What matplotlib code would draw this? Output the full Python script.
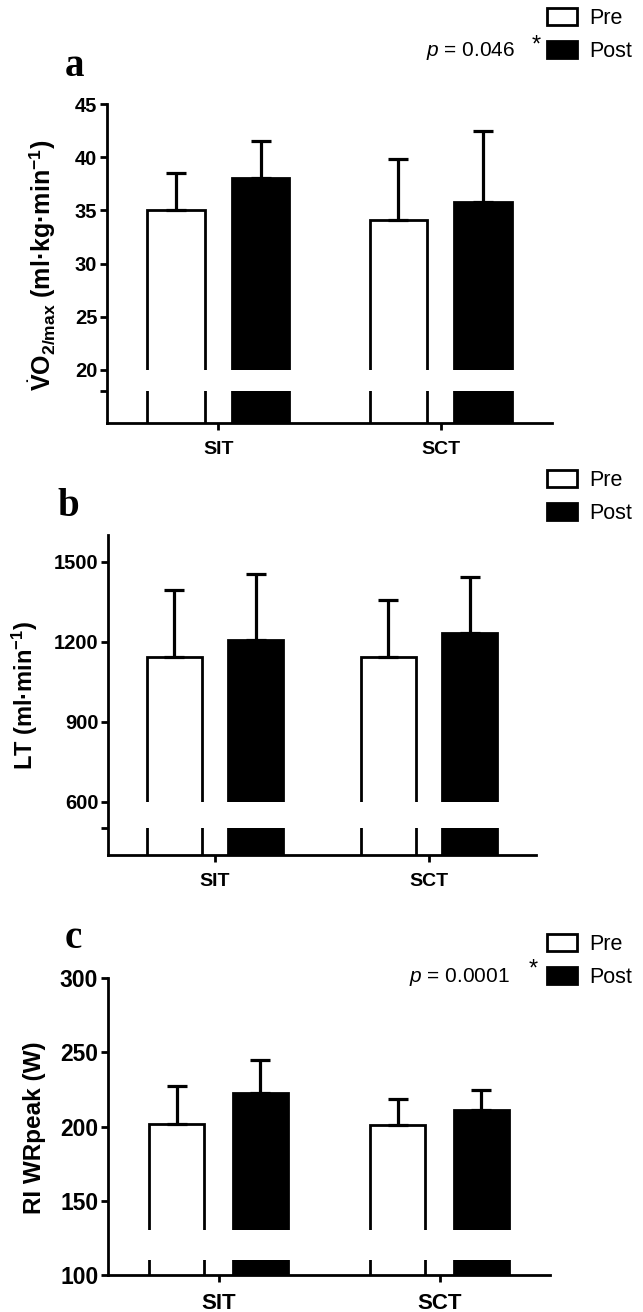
import matplotlib
matplotlib.use("Agg")
import matplotlib.pyplot as plt
import numpy as np

plt.rcParams['font.family'] = ['Liberation Sans', 'DejaVu Sans']
plt.rcParams['mathtext.fontset'] = 'custom'
plt.rcParams['mathtext.rm'] = 'Liberation Sans'
plt.rcParams['mathtext.bf'] = 'Liberation Sans:bold'
plt.rcParams['mathtext.it'] = 'Liberation Sans:italic'

# ---------------- data ----------------
groups = ["SIT", "SCT"]
series = ["Pre", "Post"]

vo2_pre = [35.0, 34.05]
vo2_pre_sd = [3.5, 5.8]
vo2_post = [38.05, 35.75]
vo2_post_sd = [3.45, 6.75]

lt_pre = [1142, 1142]
lt_pre_sd = [253, 216]
lt_post = [1205, 1232]
lt_post_sd = [247, 211]

wr_pre = [202, 201]
wr_pre_sd = [25.6, 17.7]
wr_post = [222.5, 211.2]
wr_post_sd = [22.5, 13.5]

vo2_ticks = [18, 20, 25, 30, 35, 40, 45]
vo2_ticklabels = ["", "20", "25", "30", "35", "40", "45"]
lt_ticks = [500, 600, 900, 1200, 1500]
lt_ticklabels = ["", "600", "900", "1200", "1500"]
wr_ticks = [100, 150, 200, 250, 300]
wr_ticklabels = ["100", "150", "200", "250", "300"]

p_a = "0.046"
p_c = "0.0001"

# ---------------- figure ----------------
W, H = 643, 1312
fig = plt.figure(figsize=(W / 100, H / 100), dpi=100)


def px_axes(left, right, top, bottom):
    return fig.add_axes([left / W, 1 - bottom / H, (right - left) / W, (bottom - top) / H])


LW = 2.0


def panel(ax, pre, pre_sd, post, post_sd, ylim, brk, ticks, ticklabels,
          tick_fs, xtick_fs, xtick_weight, width):
    x = np.arange(len(groups))
    off = 0.19
    b1 = ax.bar(x - off, pre, width, color="white", edgecolor="black", linewidth=LW, zorder=2)
    b2 = ax.bar(x + off, post, width, color="black", edgecolor="black", linewidth=LW, zorder=2)
    ax.errorbar(x - off, pre, yerr=[np.zeros(len(pre)), pre_sd], fmt="none", ecolor="black",
                elinewidth=LW + 0.3, capsize=7.5, capthick=LW + 0.3, zorder=3)
    ax.errorbar(x + off, post, yerr=[np.zeros(len(post)), post_sd], fmt="none", ecolor="black",
                elinewidth=LW + 0.3, capsize=7.5, capthick=LW + 0.3, zorder=3)
    ax.axhspan(brk[0], brk[1], color="white", zorder=2.2, lw=0)
    ax.set_xlim(-0.5, 1.5)
    ax.set_ylim(*ylim)
    ax.set_yticks(ticks)
    ax.set_yticklabels(ticklabels, fontsize=tick_fs, fontweight="bold")
    ax.set_xticks(x)
    ax.set_xticklabels(groups, fontsize=xtick_fs, fontweight=xtick_weight)
    for s in ["top", "right"]:
        ax.spines[s].set_visible(False)
    for s in ["left", "bottom"]:
        ax.spines[s].set_linewidth(LW)
        ax.spines[s].set_zorder(4)
    ax.tick_params(direction="out", length=5, width=LW, pad=2)
    ax.tick_params(axis="x", pad=8)
    return b1, b2


def add_legend(b1, b2, top_px):
    fig.legend([b1, b2], series, loc="upper left",
               bbox_to_anchor=(547 / W, 1 - top_px / H), frameon=False,
               prop={'size': 15.5}, handlelength=1.4, handleheight=0.8,
               handletextpad=0.55, labelspacing=0.55, borderpad=0, borderaxespad=0)


# panel a
ax_a = px_axes(107, 552, 104, 423)
b1, b2 = panel(ax_a, vo2_pre, vo2_pre_sd, vo2_post, vo2_post_sd, (15, 45), (18, 20),
               vo2_ticks, vo2_ticklabels, 14.5, 14, "bold", 0.258)
add_legend(b1, b2, 8)
fig.text(515 / W, 1 - 51 / H, r"$\it{p}$ = " + p_a, ha="right", va="center", fontsize=15)
fig.text(536 / W, 1 - 46 / H, "*", ha="center", va="center", fontsize=17)
fig.text(75 / W, 1 - 66 / H, "a", ha="center", va="center", fontsize=28,
         fontweight="bold", family="Liberation Serif")
fig.text(42 / W, 1 - 265 / H,
         r"$\dot{\mathbf{V}}\mathbf{O}_{\mathbf{2/max}}$ (ml·kg·min$^{\mathbf{-1}}$)",
         rotation=90, ha="center", va="center", fontsize=18, fontweight="bold")

# panel b
ax_b = px_axes(108, 536, 535, 855)
b1, b2 = panel(ax_b, lt_pre, lt_pre_sd, lt_post, lt_post_sd, (400, 1600), (500, 600),
               lt_ticks, lt_ticklabels, 14.5, 14, "bold", 0.257)
add_legend(b1, b2, 470)
fig.text(68 / W, 1 - 506 / H, "b", ha="center", va="center", fontsize=28,
         fontweight="bold", family="Liberation Serif")
fig.text(25 / W, 1 - 695 / H, r"LT (ml·min$^{\mathbf{-1}}$)",
         rotation=90, ha="center", va="center", fontsize=17, fontweight="bold")

# panel c
ax_c = px_axes(108, 550, 978, 1275)
b1, b2 = panel(ax_c, wr_pre, wr_pre_sd, wr_post, wr_post_sd, (100, 300), (110, 130),
               wr_ticks, wr_ticklabels, 16.5, 16, "bold", 0.253)
add_legend(b1, b2, 934)
fig.text(510 / W, 1 - 977 / H, r"$\it{p}$ = " + p_c, ha="right", va="center", fontsize=15)
fig.text(533 / W, 1 - 970 / H, "*", ha="center", va="center", fontsize=17)
fig.text(73 / W, 1 - 939 / H, "c", ha="center", va="center", fontsize=28,
         fontweight="bold", family="Liberation Serif")
fig.text(35 / W, 1 - 1128 / H, "RI WRpeak (W)",
         rotation=90, ha="center", va="center", fontsize=17.5, fontweight="bold")

fig.savefig("out.png", dpi=100)
